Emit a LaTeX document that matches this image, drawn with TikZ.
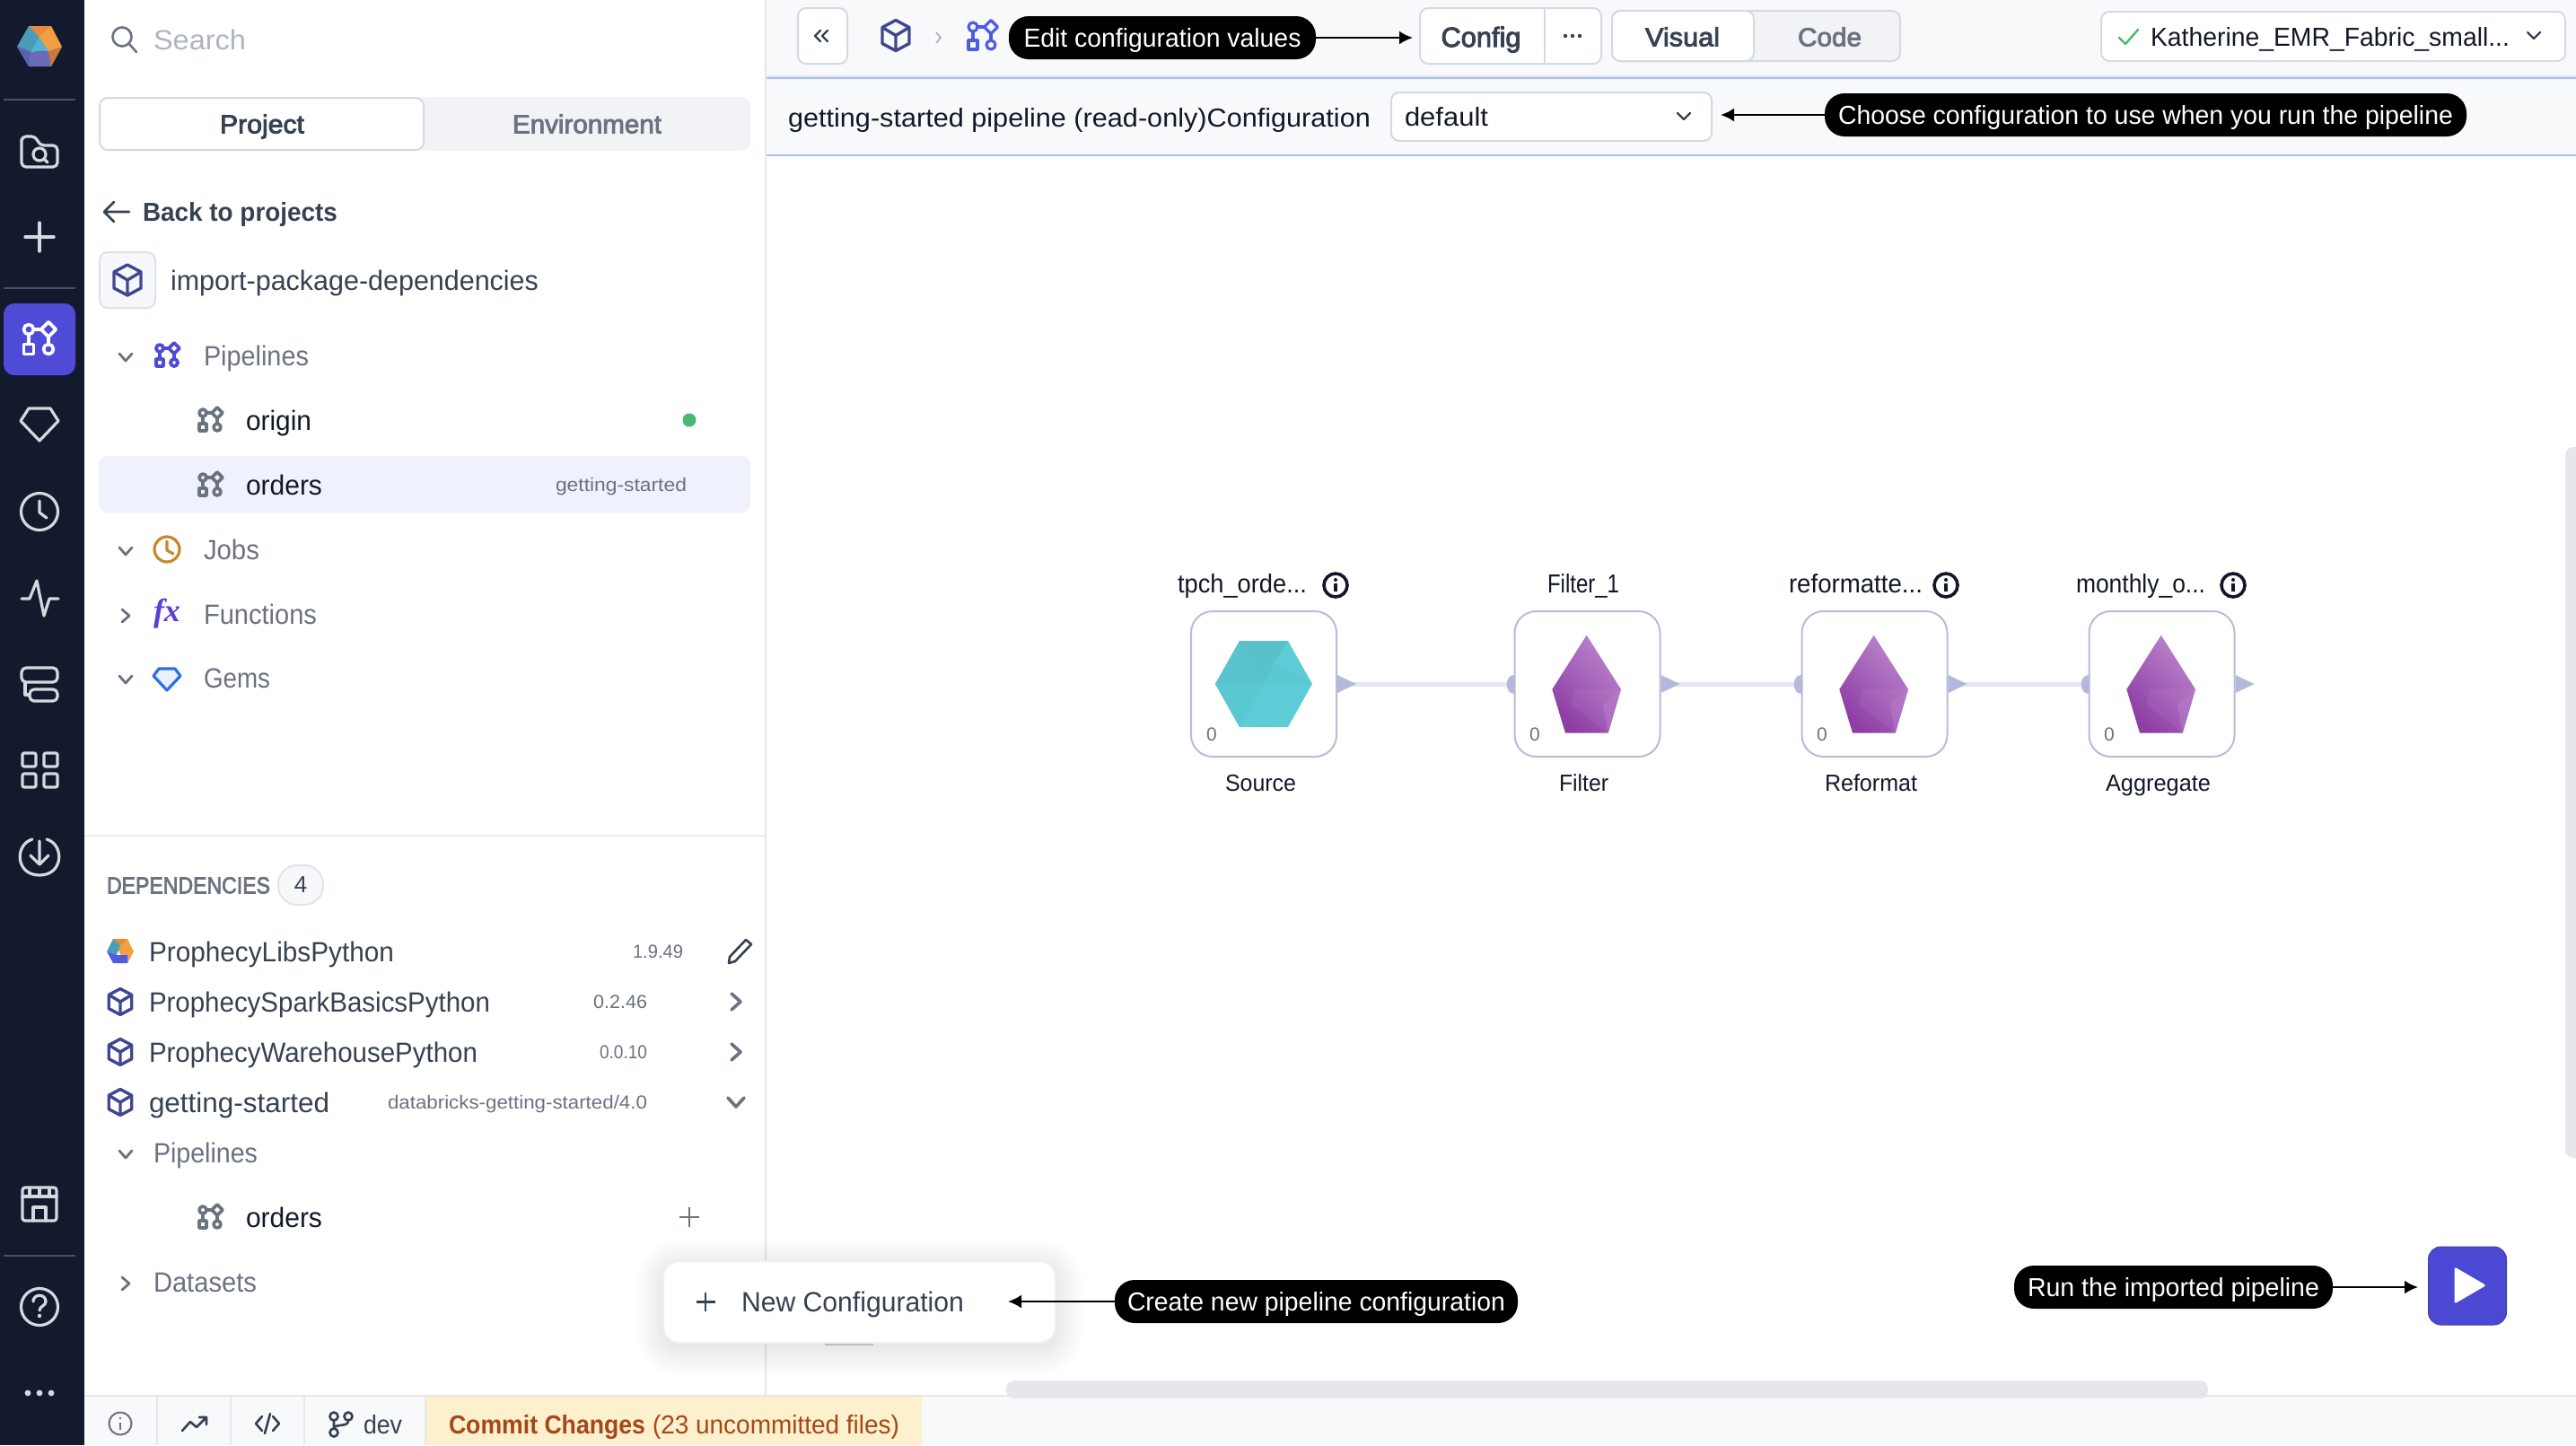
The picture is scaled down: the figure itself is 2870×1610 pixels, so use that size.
\documentclass[tikz,border=0pt]{standalone}
\usepackage{fontspec}
\usepackage{graphicx}
\setmainfont{Liberation Sans}
\newfontfamily\medf[FakeBold=3]{Liberation Sans}
\newfontfamily\fxf{Liberation Serif}
\usetikzlibrary{calc,arrows.meta}
\definecolor{side}{HTML}{131A2E}
\definecolor{sideicon}{HTML}{D5D9DF}
\definecolor{actv}{HTML}{4F4BD6}
\definecolor{ink}{HTML}{111827}
\definecolor{slate}{HTML}{374151}
\definecolor{muted}{HTML}{6B7280}
\definecolor{faint}{HTML}{AEB5C0}
\definecolor{tabbg}{HTML}{F1F3F7}
\definecolor{bdr}{HTML}{D5DAE2}
\definecolor{soft}{HTML}{E5E7EB}
\definecolor{barbg}{HTML}{F8F9FB}
\definecolor{cubec}{HTML}{3F4790}
\definecolor{tile}{HTML}{B8BBDC}
\definecolor{port}{HTML}{B5B8DA}
\definecolor{wire}{HTML}{E4E5F3}
\definecolor{blueln}{HTML}{A9BDF0}
\definecolor{commitbg}{HTML}{FDF0CC}
\definecolor{commitfg}{HTML}{A4481A}
\definecolor{divline}{HTML}{E8EEF0}
\definecolor{sidediv}{HTML}{4A5164}
\definecolor{pkgbd}{HTML}{DDE2EA}
\definecolor{pkgbg}{HTML}{F7F8FC}
\definecolor{okgreen}{HTML}{48B96F}
\definecolor{rowbg}{HTML}{EFF2FD}
\definecolor{jobc}{HTML}{C7882A}
\definecolor{fxc}{HTML}{5B3FD6}
\definecolor{gemb}{HTML}{2F6FE4}
\definecolor{gembg}{HTML}{EAF1FD}
\definecolor{badgebd}{HTML}{E1E4EA}
\definecolor{badgebg}{HTML}{F7F8FA}
\definecolor{crumb}{HTML}{4F5BE0}
\definecolor{popbd}{HTML}{EEF0F5}
\definecolor{peek}{HTML}{C5D3DC}
\definecolor{runbl}{HTML}{4B49D4}
\definecolor{runedge}{HTML}{43419F}
\definecolor{hexa}{HTML}{5CCDD6}
\definecolor{hexb}{HTML}{58C1CA}
\definecolor{hexc}{HTML}{59C4CD}
\definecolor{hexd}{HTML}{5AC8D1}
\definecolor{hexe}{HTML}{5BC8D2}
\definecolor{gemL}{HTML}{BA84CC}
\definecolor{gemD}{HTML}{8E3DA5}
\definecolor{gemE}{HTML}{B87ECC}
\definecolor{lgo}{HTML}{F0A040}
\definecolor{lgr}{HTML}{E58A3A}
\definecolor{lgb}{HTML}{C9793A}
\definecolor{lgt}{HTML}{4A9DB8}
\definecolor{lgs}{HTML}{4FB3D6}
\definecolor{lgp}{HTML}{6A6CB8}
\definecolor{lgq}{HTML}{5B5FB0}
\newsavebox\fitbox
\newcommand\fitw[2]{\sbox\fitbox{\rule{0pt}{.72em}\smash{#2}}\pgfmathsetmacro\fitf{#1/\wd\fitbox}\scalebox{\fitf}[1]{\usebox\fitbox}}
\newcommand\szA{\fontsize{31}{36}\selectfont}
\newcommand\szB{\fontsize{29}{34}\selectfont}
\newcommand\szC{\fontsize{21}{25}\selectfont}
\newcommand\szD{\fontsize{26}{30}\selectfont}
\tikzset{x=1pt,y=-1pt,
 pipew/.store in=\pipelw, pipew=3pt,
 lbl/.style={inner sep=0pt,outer sep=0pt,anchor=west,text=ink},
 sicon/.style={draw=sideicon,line width=3.2pt,line join=round,line cap=round},
 btn/.style={draw=bdr,line width=2pt,fill=white,rounded corners=9pt},
 pill/.style={fill=black,rounded corners=22pt,inner sep=0pt},
 callarrow/.style={draw=black,line width=2.4pt,-{Latex[length=15pt,width=15pt]}},
 tilebox/.style={draw=tile,line width=2pt,fill=white,rounded corners=24pt},
 pipeicon/.pic={\begin{scope}[line width=\pipelw,line join=round,pic actions]
   \draw (-10,-10) circle(5);
   \draw (10,-17.5)--(17.5,-10)--(10,-2.5)--(2.5,-10)--cycle;
   \draw (-15,5) rectangle (-5,15);
   \draw (10,10) circle(5);
   \draw (-5,-10)--(2.5,-10) (-10,-5)--(-10,5) (10,-2.5)--(10,5);
 \end{scope}},
 cubeicon/.pic={\begin{scope}[line width=3.4pt,line join=round,pic actions]
   \draw (0,-17)--(15,-9)--(15,9)--(0,17)--(-15,9)--(-15,-9)--cycle;
   \draw (-15,-9)--(0,0)--(15,-9) (0,0)--(0,17);
 \end{scope}},
 gem/.pic={
   \shade[left color=gemD,right color=gemL,shading angle=135] (0,0)--(38.3,60.3)--(24,109)--(-23.7,109)--(-38.4,60.3)--cycle;
   \fill[white,opacity=.05] (-13,60)--(38.3,60.3)--(18,77)--(24,109)--(-17,77)--cycle;
   \fill[gemE,opacity=.6] (38.3,60.3)--(24,109)--(18,77)--cycle;
 },
 inport/.pic={\fill[port] (0,-10.5) .. controls (-11,-10.5) and (-11,10.5) .. (0,10.5)--cycle;},
 outport/.pic={\fill[port] (0,-10)--(21,0)--(0,10)--cycle;}
}
\begin{document}
\begin{tikzpicture}
\useasboundingbox (0,0) rectangle (2870,1610);
\fill[white] (0,0) rectangle (2870,1610);
% header bands
\fill[barbg] (853,0) rectangle (2870,173);
\fill[soft] (853,84) rectangle (2870,86);
\draw[blueln,line width=1.6pt] (853,87)--(2870,87);
\draw[blueln,line width=1.6pt] (853,173)--(2870,173);
% status bar
\fill[barbg] (94,1555) rectangle (2870,1610);
\fill[soft,rounded corners=9pt] (1121,1558) rectangle (2460,1538);
\fill[soft,rounded corners=9pt] (2858,498) rectangle (2880,1290);
\fill[soft] (94,1554) rectangle (2870,1556);
\fill[commitbg] (474,1556) rectangle (1027,1610);
% panel lines
\fill[soft] (852,0) rectangle (854,1554);
\fill[divline] (94,930) rectangle (852,932);
\foreach \xx in {175,257,339,474}{\fill[soft] (\xx-1,1556) rectangle (\xx+1,1610);}
% sidebar
\fill[side] (0,0) rectangle (94,1610);
\foreach \yy in {111,321,1399}{\fill[sidediv] (4,\yy-1) rectangle (84,\yy+1);}
% logo
\fill[lgo] (32,29)--(57,29)--(69,52)--(57,74)--(43,41)--cycle;
\fill[lgr] (32,29)--(57,29)--(43,41)--cycle;
\fill[lgb] (69,52)--(57,74)--(54,57)--cycle;
\fill[lgt] (32,29)--(43,41)--(34,58)--(19,52)--cycle;
\fill[lgs] (43,41)--(54,57)--(34,58)--cycle;
\fill[lgp] (19,52)--(34,58)--(54,57)--(57,74)--(32,74)--cycle;
\fill[lgq] (19,52)--(34,58)--(32,74)--cycle;
\fill[actv,rounded corners=12pt] (4,338) rectangle (84,418);
\pic[draw=white,scale=1.1,pipew=3.6pt] at (43,378) {pipeicon};
% folder
\draw[sicon,rounded corners=5pt] (24,160)--(24,186)--(64,186)--(64,162)--(44,162)--(40,152)--(24,152)--cycle;
\draw[sicon] (44,172) circle(7) (49,177)--(53,181);
% plus
\draw[sicon] (44,248)--(44,280) (28,264)--(60,264);
% gem
\draw[sicon] (32,455)--(56,455)--(65,469)--(44,491)--(23,469)--cycle;
% clock
\draw[sicon] (44,570) circle(20.5) (44,558)--(44,571)--(52,577);
% pulse
\draw[sicon] (24,667)--(33,667)--(41,647)--(49,686)--(55,667)--(65,667);
% stack
\draw[sicon,rounded corners=5pt] (24,744) rectangle (64,760);
\draw[sicon,rounded corners=5pt] (33,768) rectangle (64,781);
\draw[sicon] (28,760)--(28,774)--(33,774);
% grid
\foreach \xx/\yy in {25/839,49/839,25/862,49/862}{\draw[sicon,rounded corners=2pt] (\xx,\yy) rectangle ++(15,15);}
% download
\draw[sicon] (36,935) .. controls (16,941) and (17,975) .. (44,975) .. controls (71,975) and (72,941) .. (52,935);
\draw[sicon] (44,937)--(44,963) (34,953)--(44,963)--(54,953);
% store
\draw[sicon,rounded corners=3pt] (25,1323) rectangle (63,1360);
\draw[sicon] (25,1333)--(63,1333) (37,1360)--(37,1345)--(51,1345)--(51,1360) (33,1325)--(33,1333) (44,1325)--(44,1333) (55,1325)--(55,1333);
% help
\draw[sicon] (44,1456) circle(20.5);
\draw[sicon] (37,1450) .. controls (37,1441) and (51,1441) .. (51,1450) .. controls (51,1455) and (44,1455) .. (44,1460);
\fill[sideicon] (44,1466) circle(2.2);
% dots
\foreach \xx in {31,44,57}{\fill[sideicon] (\xx,1552) circle(3.4);}

% search
\draw[draw=muted,line width=2.6pt,line cap=round] (136,41) circle(10.5) (144,49)--(152,58);
\node[lbl,text=faint,font=\szA] (tSearch) at (171,44) {\fitw{103}{Search}};
% tabs
\fill[tabbg,rounded corners=10pt] (111,108) rectangle (836,168);
\node[btn,minimum width=361pt,minimum height=58pt,inner sep=0pt] (tabP) at (291.5,138) {};
\node[inner sep=0pt,text=slate,font=\szB\medf] (tProject) at (292,138) {\fitw{94}{Project}};
\node[inner sep=0pt,text=muted,font=\szB\medf] (tEnv) at (654,138) {\fitw{166}{Environment}};
% back
\draw[slate,line width=2.6pt,line join=round,line cap=round] (116,236)--(144,236) (127,225)--(116,236)--(127,247);
\node[lbl,text=slate,font=\szB\bfseries] (tBack) at (159,236) {\fitw{217}{Back to projects}};
% package
\node[draw=pkgbd,line width=2pt,fill=pkgbg,rounded corners=9pt,minimum width=62pt,minimum height=62pt,inner sep=0pt] (pkgBox) at (142,312) {};
\pic[draw=cubec] at (142,312) {cubeicon};
\node[lbl,text=slate,font=\szA] (tPkg) at (190,312) {\fitw{410}{import-package-dependencies}};
% tree
\newcommand\chevD[2]{\draw[draw=muted,line width=2.8pt,line cap=round,line join=round] (#1-7,#2-4)--(#1,#2+4)--(#1+7,#2-4);}
\newcommand\chevR[2]{\draw[draw=muted,line width=2.8pt,line cap=round,line join=round] (#1-4,#2-7)--(#1+4,#2)--(#1-4,#2+7);}
\newcommand\chevDb[2]{\draw[draw=muted,line width=3.6pt,line cap=round,line join=round] (#1-9,#2-5)--(#1,#2+5)--(#1+9,#2-5);}
\newcommand\chevRb[2]{\draw[draw=muted,line width=3.6pt,line cap=round,line join=round] (#1-5,#2-9)--(#1+5,#2)--(#1-5,#2+9);}
\chevD{140}{398}
\pic[draw=actv,scale=0.8,pipew=3.8pt] at (186,396) {pipeicon};
\node[lbl,text=muted,font=\szA] (tPipes) at (227,396) {\fitw{117}{Pipelines}};
\pic[draw=muted,scale=0.8,pipew=3.6pt] at (234,468) {pipeicon};
\node[lbl,font=\szA] (tOrigin) at (274,468) {\fitw{73}{origin}};
\fill[okgreen] (768,468) circle(7.5);
\fill[rowbg,rounded corners=10pt] (110,508) rectangle (836,571);
\pic[draw=muted,scale=0.8,pipew=3.6pt] at (234,540) {pipeicon};
\node[lbl,font=\szA] (tOrders) at (274,540) {\fitw{85}{orders}};
\node[lbl,text=muted,font=\szC] (tGS) at (619,540) {\fitw{146}{getting-started}};
\chevD{140}{614}
\draw[draw=jobc,line width=3.2pt,line cap=round,line join=round] (186,612) circle(14) (186,603)--(186,613)--(193,617);
\node[lbl,text=muted,font=\szA] (tJobs) at (227,612) {\fitw{62}{Jobs}};
\chevR{140}{686}
\node[inner sep=0pt,text=fxc,font=\fontsize{36}{40}\selectfont\fxf\bfseries\itshape] (tFx) at (186,684) {fx};
\node[lbl,text=muted,font=\szA] (tFunc) at (227,684) {\fitw{126}{Functions}};
\chevD{140}{757}
\draw[draw=gemb,fill=gembg,line width=3.2pt,line join=round] (177,745)--(195,745)--(201,753)--(186,769)--(171,753)--cycle;
\node[lbl,text=muted,font=\szA] (tGems) at (227,755) {\fitw{74}{Gems}};
% dependencies
\node[lbl,text=muted,font=\szD\medf] (tDep) at (119,986) {\fitw{182}{DEPENDENCIES}};
\node[draw=badgebd,fill=badgebg,line width=2pt,rounded corners=21pt,minimum width=50pt,minimum height=44pt,inner sep=0pt,text=slate,font=\szD] (badge) at (335,986) {4};
\fill[lgo] (126,1046)--(142,1046)--(149,1060)--(142,1073)--(134,1063)--cycle;
\fill[lgt] (126,1046)--(134,1053)--(130,1064)--(119,1060)--cycle;
\fill[lgr] (126,1046)--(142,1046)--(134,1053)--cycle;
\fill[crumb] (119,1060)--(130,1064)--(142,1064)--(142,1073)--(126,1073)--cycle;
\node[lbl,text=slate,font=\szA] (tPL) at (166,1060) {\fitw{273}{ProphecyLibsPython}};
\node[lbl,text=muted,font=\szC] (vPL) at (705,1060) {\fitw{56}{1.9.49}};
\draw[draw=slate,line width=2.6pt,line join=round] (812,1073)--(813,1066)--(831,1047)--(837,1052)--(819,1071)--cycle;
\foreach \yy in {1116,1172,1228}{\pic[draw=cubec,scale=0.85] at (134,\yy) {cubeicon};}
\node[lbl,text=slate,font=\szA] (tPS) at (166,1116) {\fitw{380}{ProphecySparkBasicsPython}};
\node[lbl,text=muted,font=\szC] (vPS) at (661,1116) {\fitw{60}{0.2.46}};
\chevRb{820}{1116}
\node[lbl,text=slate,font=\szA] (tPW) at (166,1172) {\fitw{366}{ProphecyWarehousePython}};
\node[lbl,text=muted,font=\szC] (vPW) at (668,1172) {\fitw{53}{0.0.10}};
\chevRb{820}{1172}
\node[lbl,text=slate,font=\szA] (tGS2) at (166,1228) {\fitw{201}{getting-started}};
\node[lbl,text=muted,font=\szC] (vGS2) at (432,1228) {\fitw{289}{databricks-getting-started/4.0}};
\chevDb{820}{1228}
\chevD{140}{1286}
\node[lbl,text=muted,font=\szA] (tPipes2) at (171,1284) {\fitw{116}{Pipelines}};
\pic[draw=muted,scale=0.8,pipew=3.6pt] at (234,1356) {pipeicon};
\node[lbl,font=\szA] (tOrders2) at (274,1356) {\fitw{85}{orders}};
\draw[draw=muted,line width=2.4pt] (768,1345)--(768,1367) (757,1356)--(779,1356);
\chevR{140}{1430}
\node[lbl,text=muted,font=\szA] (tData) at (171,1428) {\fitw{115}{Datasets}};
% status bar icons
\draw[draw=muted,line width=2pt] (134,1586) circle(12.5);
\draw[draw=muted,line width=2.2pt] (134,1585)--(134,1593);
\fill[muted] (134,1580) circle(1.4);
\draw[draw=slate,line width=2.6pt,line join=round,line cap=round] (203,1594)--(212,1584)--(219,1590)--(230,1579) (222,1579)--(230,1579)--(230,1587);
\draw[draw=slate,line width=2.6pt,line join=round,line cap=round] (292,1578)--(285,1586)--(292,1594) (304,1578)--(311,1586)--(304,1594) (301,1575)--(295,1597);
\draw[draw=slate,line width=2.6pt] (372,1578) circle(4.5) (372,1596) circle(4.5) (388,1578) circle(4.5) (372,1583)--(372,1591) (388,1583) .. controls (388,1590) and (374,1586) .. (372,1591);
\node[lbl,text=slate,font=\szB] (tDev) at (405,1587) {\fitw{43}{dev}};
\node[lbl,text=commitfg,font=\szB\bfseries] (tCommit) at (500,1587) {\fitw{219}{Commit Changes}};
\node[lbl,text=commitfg,font=\szB] (tUnc) at (727,1587) {\fitw{275}{(23 uncommitted files)}};

% top bar
\node[btn,minimum width=55pt,minimum height=62pt,inner sep=0pt] (btnBack) at (916.5,40) {};
\draw[draw=slate,line width=2.4pt,line cap=round,line join=round] (914,34)--(908,40)--(914,46) (922,34)--(916,40)--(922,46);
\pic[draw=cubec] at (998,39.5) {cubeicon};
\draw[draw=faint,line width=1.8pt] (1043,36)--(1048,42)--(1043,48);
\pic[draw=crumb,pipew=3.2pt] at (1094,40) {pipeicon};
\node[pill,minimum width=342pt,minimum height=48pt,text=white,font=\szB] (pEdit) at (1295,42) {\fitw{309}{Edit configuration values}};
\node[btn,minimum width=202pt,minimum height=62pt,inner sep=0pt] (btnConfig) at (1683,40) {};
\draw[draw=bdr,line width=1.6pt] (1721,9)--(1721,71);
\node[inner sep=0pt,text=slate,font=\szA\medf] (tConfig) at (1650,41) {\fitw{89}{Config}};
\foreach \xx in {1744,1752,1760}{\fill[slate] (\xx,40) circle(2.2);}
\coordinate (aEdit) at (1574,42);
\draw[callarrow] (pEdit.east) -- (aEdit);
\fill[tabbg,draw=bdr,line width=2pt,rounded corners=9pt] (1796,12) rectangle (2117,68);
\node[btn,minimum width=158pt,minimum height=56pt,inner sep=0pt] (btnVis) at (1875,40) {};
\node[inner sep=0pt,text=slate,font=\szB\medf] (tVis) at (1874.5,41) {\fitw{83}{Visual}};
\node[inner sep=0pt,text=muted,font=\szB\medf] (tCode) at (2038.5,41) {\fitw{71}{Code}};
\node[btn,minimum width=517pt,minimum height=55pt,inner sep=0pt] (btnEnv) at (2599.5,40.5) {};
\draw[draw=okgreen,line width=2.4pt,line cap=round,line join=round] (2361,42)--(2368,49)--(2382,33);
\node[lbl,text=ink,font=\szB] (tEnvN) at (2396,41) {\fitw{400}{Katherine\_EMR\_Fabric\_small...}};
\draw[draw=slate,line width=2.2pt,line cap=round,line join=round] (2816,36)--(2823,43)--(2830,36);
% row two
\node[lbl,font=\szB] (tRead) at (878,131) {\fitw{649}{getting-started pipeline (read-only)Configuration}};
\node[btn,minimum width=357pt,minimum height=54pt,inner sep=0pt] (dropDef) at (1728.5,130) {};
\node[lbl,font=\szB] (tDefault) at (1565,130) {\fitw{93}{default}};
\draw[draw=slate,line width=2.2pt,line cap=round,line join=round] (1869,126)--(1876,133)--(1883,126);
\node[pill,minimum width=715pt,minimum height=48pt,text=white,font=\szB] (pChoose) at (2390.5,128) {\fitw{685}{Choose configuration to use when you run the pipeline}};
\coordinate (aChoose) at (1917,128);
\draw[callarrow] (pChoose.west) -- (aChoose);

% canvas tiles
\node[tilebox,minimum width=162pt,minimum height=162pt,inner sep=0pt] (n1) at (1408,762) {};
\node[tilebox,minimum width=162pt,minimum height=162pt,inner sep=0pt] (n2) at (1768.5,762) {};
\node[tilebox,minimum width=162pt,minimum height=162pt,inner sep=0pt] (n3) at (2088.5,762) {};
\node[tilebox,minimum width=162pt,minimum height=162pt,inner sep=0pt] (n4) at (2408.5,762) {};
\draw[wire,line width=5pt] (n1.east) -- (n2.west);
\draw[wire,line width=5pt] (n2.east) -- (n3.west);
\draw[wire,line width=5pt] (n3.east) -- (n4.west);
\pic at (n1.east) {outport};\pic at (n2.east) {outport};\pic at (n3.east) {outport};\pic at (n4.east) {outport};
\pic at (n2.west) {inport};\pic at (n3.west) {inport};\pic at (n4.west) {inport};
% hexagon
\fill[hexa] (1381,714)--(1435,714)--(1462,762)--(1435,810)--(1381,810)--(1354,762)--cycle;
\fill[hexb] (1381,714)--(1435,714)--(1420,738)--(1408,762)--cycle;
\fill[hexc] (1354,762)--(1381,714)--(1408,762)--cycle;
\fill[hexd] (1354,762)--(1408,762)--(1381,810)--cycle;
\fill[hexe] (1420,738)--(1462,762)--(1408,762)--cycle;
\pic at (1767.7,707.7) {gem};\pic at (2087.7,707.7) {gem};\pic at (2407.7,707.7) {gem};
\foreach \xx/\nm in {1350/a,1710/b,2030/c,2350/d}{\node[inner sep=0pt,text=muted,font=\szC] (z\nm) at (\xx,818) {0};}
% labels
\node[lbl,font=\szB] (l1) at (1312,650) {\fitw{144}{tpch\_orde...}};
\node[lbl,font=\szB] (l2) at (1724,650) {\fitw{80}{Filter\_1}};
\node[lbl,font=\szB] (l3) at (1993,650) {\fitw{149}{reformatte...}};
\node[lbl,font=\szB] (l4) at (2313,650) {\fitw{144}{monthly\_o...}};
\foreach \xx/\nm in {1488/a,2168/b,2488/c}{
 \node[draw=ink,line width=3.6pt,circle,minimum size=26pt,inner sep=0pt] (inf\nm) at (\xx,652) {};
 \fill[ink] (\xx,646) circle(2);
 \fill[ink] (\xx-1.6,650) rectangle (\xx+1.6,659);
}
\node[lbl,font=\szD] (b1) at (1365,872) {\fitw{79}{Source}};
\node[lbl,font=\szD] (b2) at (1737,872) {\fitw{55}{Filter}};
\node[lbl,font=\szD] (b3) at (2033,872) {\fitw{103}{Reformat}};
\node[lbl,font=\szD] (b4) at (2346,872) {\fitw{117}{Aggregate}};
% popup
\fill[peek] (919,1494) rectangle (973,1499);
\foreach \gr in {0,3,...,30}{\fill[black,opacity=.006,rounded corners=18pt+\gr pt] (739-\gr,1411-\gr) rectangle (1176+\gr,1502+\gr);}
\node[draw=popbd,line width=2pt,fill=white,rounded corners=18pt,minimum width=437pt,minimum height=91pt,inner sep=0pt] (pop) at (957.5,1450.5) {};
\draw[draw=slate,line width=2.4pt] (786,1440)--(786,1461) (775.5,1450.5)--(796.5,1450.5);
\node[lbl,text=slate,font=\szA] (tNew) at (826,1450) {\fitw{248}{New Configuration}};
\node[pill,minimum width=449pt,minimum height=48pt,text=white,font=\szB] (pNew) at (1466.5,1450) {\fitw{421}{Create new pipeline configuration}};
\coordinate (aNew) at (1123,1450);
\draw[callarrow] (pNew.west) -- (aNew);
\node[pill,minimum width=355pt,minimum height=48pt,text=white,font=\szB] (pRun) at (2421.5,1434) {\fitw{325}{Run the imported pipeline}};
\node[draw=runedge,line width=1pt,fill=runbl,rounded corners=14pt,minimum width=87pt,minimum height=87pt,inner sep=0pt] (btnRun) at (2749,1432.5) {};
\coordinate (aRun) at (2694,1434);
\draw[callarrow] (pRun.east) -- (aRun);
\fill[white,draw=white,line width=3pt,line join=round] (2736,1414)--(2767,1432)--(2736,1450)--cycle;
\end{tikzpicture}
\end{document}
